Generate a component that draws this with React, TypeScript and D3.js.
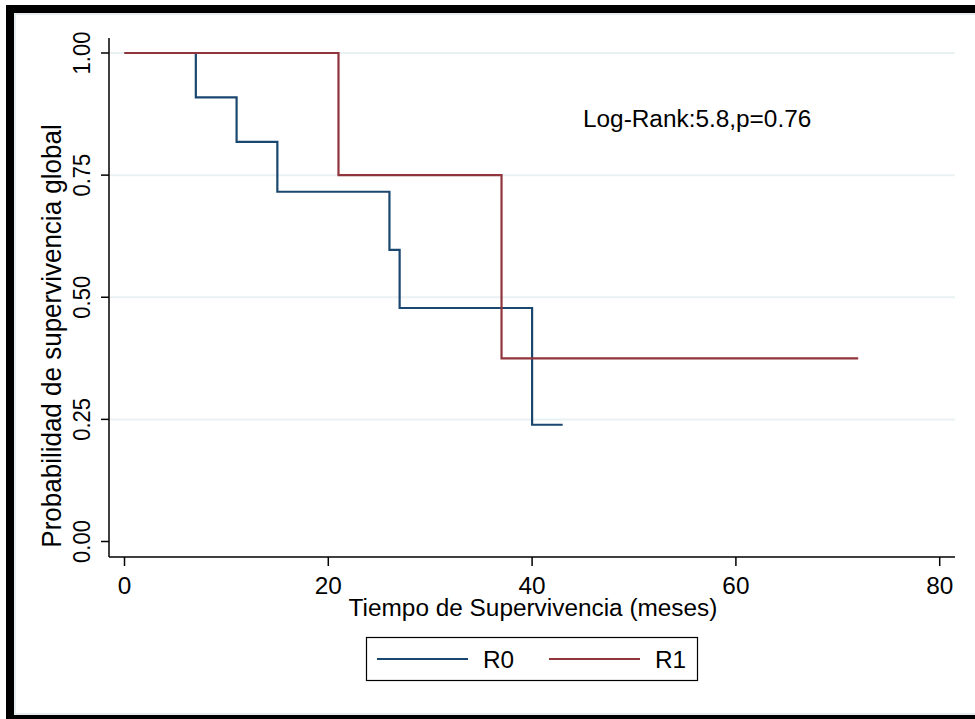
import React from "react";
import * as d3 from "d3";

const r0Times = [0, 7, 11, 15, 26, 27, 40];
const r0Surv = [1, 0.909, 0.818, 0.716, 0.597, 0.478, 0.239];
const r0End = 43;
const r1Times = [0, 21, 37];
const r1Surv = [1, 0.75, 0.375];
const r1End = 72;
const xTicks = [0, 20, 40, 60, 80];
const yTicks = [0, 0.25, 0.5, 0.75, 1];
const yTickLabels = ["0.00", "0.25", "0.50", "0.75", "1.00"];
const seriesNames = ["R0", "R1"];
const seriesColors = ["#1a476f", "#90353b"];
const annotation = "Log-Rank:5.8,p=0.76";
const xTitle = "Tiempo de Supervivencia (meses)";
const yTitle = "Probabilidad de supervivencia global";

const W = 975;
const H = 719;
const FONT = "'Liberation Sans', Arial, Helvetica, sans-serif";
const SX = 1.06;

export default function App() {
  const x = d3.scaleLinear().domain([0, 80]).range([124.5, 939.7]);
  const y = d3.scaleLinear().domain([0, 1]).range([541.5, 53]);

  const stepPts = (t: number[], s: number[], end: number): [number, number][] => {
    const pts: [number, number][] = t.map((ti, i) => [ti, s[i]]);
    pts.push([end, s[s.length - 1]]);
    return pts;
  };
  const line = d3
    .line<[number, number]>()
    .x((d) => x(d[0]))
    .y((d) => y(d[1]))
    .curve(d3.curveStepAfter);

  const series = [
    stepPts(r0Times, r0Surv, r0End),
    stepPts(r1Times, r1Surv, r1End),
  ];

  const axisX = 109;
  const axisY = 557;

  return (
    <div style={{ position: "fixed", left: 0, top: 0, width: W, height: H, background: "#fff" }}>
      <svg width={W} height={H} style={{ display: "block" }} fontFamily={FONT}>
        <rect x={0} y={0} width={W} height={H} fill="#fff" />
        {/* frame */}
        <rect x={15} y={14} width={1000} height={700} fill="none" stroke="#e6edf0" strokeWidth={2} />
        <rect x={10} y={9} width={1000} height={710} fill="none" stroke="#000" strokeWidth={8} />

        {/* gridlines */}
        {yTicks.filter((v) => v > 0).map((v) => (
          <line key={"g" + v} x1={axisX + 1} x2={955} y1={y(v)} y2={y(v)} stroke="#eaf1f3" strokeWidth={2} />
        ))}

        {/* curves */}
        {series.map((pts, i) => (
          <path key={"s" + i} d={line(pts) || ""} fill="none" stroke={seriesColors[i]} strokeWidth={2.2} />
        ))}

        {/* y axis */}
        <line x1={axisX} x2={axisX} y1={38} y2={axisY} stroke="#000" strokeWidth={1.5} />
        {yTicks.map((v, i) => (
          <g key={"yt" + v}>
            <line x1={axisX - 8} x2={axisX} y1={y(v)} y2={y(v)} stroke="#000" strokeWidth={1.5} />
            <text
              transform={`translate(90,${y(v)}) rotate(-90) scale(1,${SX})`}
              textAnchor="middle"
              fontSize={22}
              fill="#000"
            >
              {yTickLabels[i]}
            </text>
          </g>
        ))}

        {/* x axis */}
        <line x1={axisX} x2={955} y1={axisY} y2={axisY} stroke="#000" strokeWidth={1.5} />
        {xTicks.map((v) => (
          <g key={"xt" + v}>
            <line x1={x(v)} x2={x(v)} y1={axisY} y2={axisY + 9} stroke="#000" strokeWidth={1.5} />
            <text transform={`translate(${x(v)},594) scale(${SX},1)`} textAnchor="middle" fontSize={23} fill="#000">
              {v}
            </text>
          </g>
        ))}

        {/* titles */}
        <text transform={`translate(533,616) scale(${SX},1)`} textAnchor="middle" fontSize={23} fill="#000">
          {xTitle}
        </text>
        <text transform={`translate(61,336) rotate(-90) scale(1,${SX})`} textAnchor="middle" fontSize={26} fill="#000">
          {yTitle}
        </text>

        {/* annotation */}
        <text transform={`translate(583,127) scale(${SX},1)`} fontSize={23} fill="#000">
          {annotation}
        </text>

        {/* legend */}
        <rect x={366.5} y={637.5} width={331} height={43} fill="#fff" stroke="#000" strokeWidth={1.2} />
        {seriesNames.map((name, i) => {
          const lx = i === 0 ? 377 : 549;
          return (
            <g key={"l" + name}>
              <line x1={lx} x2={lx + 91} y1={659} y2={659} stroke={seriesColors[i]} strokeWidth={2.2} />
              <text transform={`translate(${lx + 106},667.5) scale(${SX},1)`} fontSize={23} fill="#000">
                {name}
              </text>
            </g>
          );
        })}
      </svg>
    </div>
  );
}
